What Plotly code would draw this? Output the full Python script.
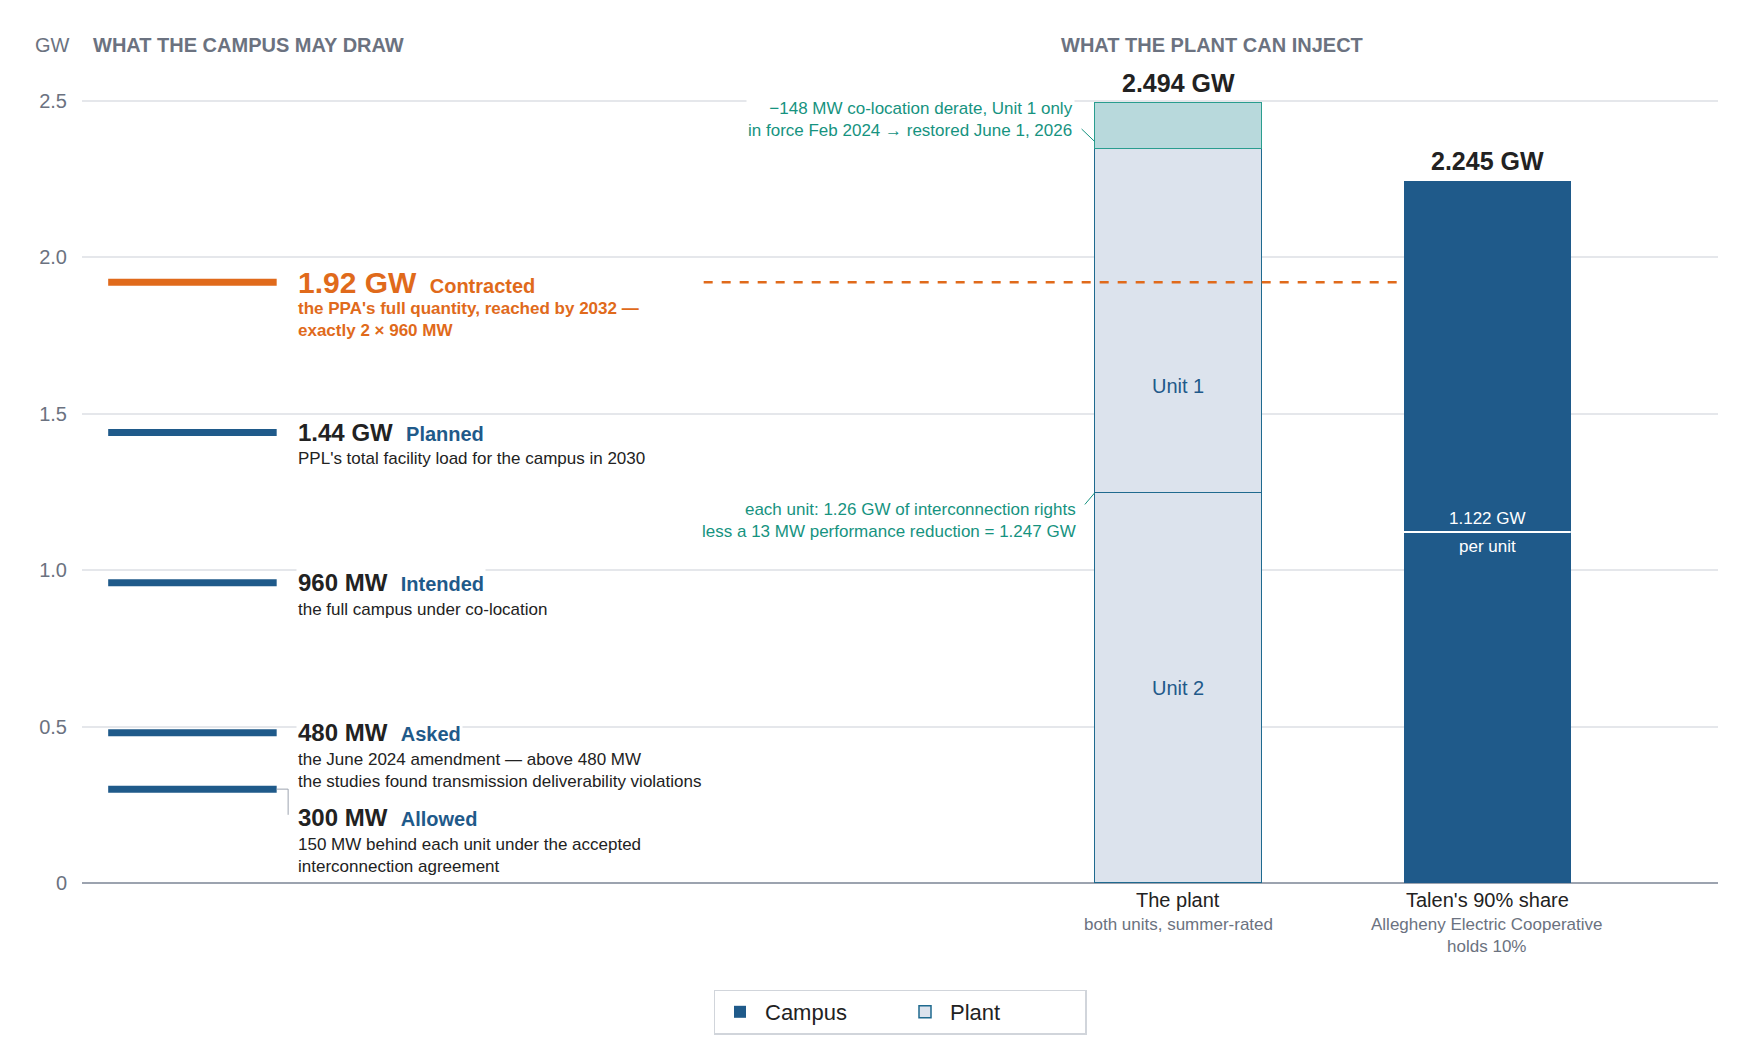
import plotly.graph_objects as go

# Campus draw levels (GW)
campus_vals = [1.92, 1.44, 0.96, 0.48, 0.30]
campus_heads = ["1.92 GW", "1.44 GW", "960 MW", "480 MW", "300 MW"]
campus_tags = ["Contracted", "Planned", "Intended", "Asked", "Allowed"]
campus_notes = [
    "the PPA's full quantity, reached by 2032 —<br>exactly 2 × 960 MW",
    "PPL's total facility load for the campus in 2030",
    "the full campus under co-location",
    "the June 2024 amendment — above 480 MW<br>the studies found transmission deliverability violations",
    "150 MW behind each unit under the accepted<br>interconnection agreement",
]
head_y = [1.92, 1.44, 0.96, 0.48, 0.208]

# Plant side (GW)
unit2 = 1.247
unit1 = 1.099
derate = 0.148
plant_total = 2.494
talen_share = 2.245
per_unit = 1.122

ORANGE = "#e06a1b"
BLUE = "#1f5a8a"
TEAL = "#16937f"
DARK = "#222222"
GRAY = "#6b7280"
FONT = "Liberation Sans"

XP, XT, W = 0.670, 0.859, 0.102
LX0, LX1, TX = 0.016, 0.119, 0.131

ML, MR, MT, MB = 74, 40, 55, 180
PW, PH = 1750 - ML - MR, 1055 - MT - MB

fig = go.Figure()
fig.add_trace(go.Bar(x=[XP], y=[unit2], width=W, name="Plant",
                     marker=dict(color="#dce3ed", line=dict(color="#1f6a8f", width=1.5))))
fig.add_trace(go.Bar(x=[XP], y=[unit1], width=W, showlegend=False,
                     marker=dict(color="#dce3ed", line=dict(color="#1f6a8f", width=1.5))))
fig.add_trace(go.Bar(x=[XP], y=[derate], width=W, showlegend=False,
                     marker=dict(color="#b8d9dc", line=dict(color="#2a9d8f", width=1.5))))
fig.add_trace(go.Bar(x=[XT], y=[talen_share], width=W, name="Campus",
                     marker=dict(color=BLUE, line=dict(width=0))))

for i, v in enumerate(campus_vals):
    fig.add_trace(go.Scatter(x=[LX0, LX1], y=[v, v], mode="lines", showlegend=False,
                             line=dict(color=ORANGE if i == 0 else BLUE, width=7), hoverinfo="skip"))

# dashed contract line
fig.add_trace(go.Scatter(x=[0.380, XT - W / 2], y=[campus_vals[0]] * 2, mode="lines", showlegend=False,
                         line=dict(color=ORANGE, width=2.5, dash="dash"), hoverinfo="skip"))
# per unit divider
fig.add_trace(go.Scatter(x=[XT - W / 2, XT + W / 2], y=[per_unit] * 2, mode="lines", showlegend=False,
                         line=dict(color="white", width=2), hoverinfo="skip"))
# elbow from 300 MW line to its label
fig.add_trace(go.Scatter(x=[LX1, 0.126, 0.126], y=[campus_vals[4], campus_vals[4], head_y[4] + 0.01],
                         mode="lines", showlegend=False, line=dict(color="#9ca3af", width=1), hoverinfo="skip"))
# teal connectors
fig.add_trace(go.Scatter(x=[0.611, XP - W / 2], y=[2.41, 2.37], mode="lines", showlegend=False,
                         line=dict(color=TEAL, width=1), hoverinfo="skip"))
fig.add_trace(go.Scatter(x=[0.613, XP - W / 2], y=[1.21, unit2], mode="lines", showlegend=False,
                         line=dict(color=TEAL, width=1), hoverinfo="skip"))

ann = []
for i in range(5):
    c = ORANGE if i == 0 else DARK
    tc = ORANGE if i == 0 else BLUE
    hs = 30 if i == 0 else 24
    ann.append(dict(x=TX, y=head_y[i], xref="x", yref="y", xanchor="left", yanchor="middle", showarrow=False,
                    bgcolor="white",
                    text=f"<b><span style='font-size:{hs}px;color:{c}'>{campus_heads[i]}</span>"
                         f"    <span style='font-size:20px;color:{tc}'>{campus_tags[i]}</span></b>"))
    note = f"<b>{campus_notes[i]}</b>" if i == 0 else campus_notes[i]
    ann.append(dict(x=TX, y=head_y[i], xref="x", yref="y", xanchor="left", yanchor="top", showarrow=False,
                    yshift=-15, align="left", bgcolor="white", text=note,
                    font=dict(size=17, color=ORANGE if i == 0 else DARK)))

extra = [
    dict(x=0.607, y=2.44, text="−148 MW co-location derate, Unit 1 only<br>in force Feb 2024 → restored June 1, 2026",
         xanchor="right", align="right", font=dict(size=17, color=TEAL), bgcolor="white"),
    dict(x=0.609, y=1.16, text="each unit: 1.26 GW of interconnection rights<br>less a 13 MW performance reduction = 1.247 GW",
         xanchor="right", align="right", font=dict(size=17, color=TEAL), bgcolor="white"),
    dict(x=XP, y=plant_total, yanchor="bottom", yshift=4, text="<b>2.494 GW</b>", font=dict(size=25, color=DARK)),
    dict(x=XT, y=talen_share, yanchor="bottom", yshift=4, text="<b>2.245 GW</b>", font=dict(size=25, color=DARK)),
    dict(x=XP, y=1.59, text="Unit 1", font=dict(size=20, color=BLUE)),
    dict(x=XP, y=unit2 / 2, text="Unit 2", font=dict(size=20, color=BLUE)),
    dict(x=XT, y=per_unit, yanchor="bottom", yshift=2, text="1.122 GW", font=dict(size=17, color="white")),
    dict(x=XT, y=per_unit, yanchor="top", yshift=-3, text="per unit", font=dict(size=17, color="white")),
    dict(x=XP, y=0, yanchor="top", yshift=-4, text="The plant", font=dict(size=20, color=DARK)),
    dict(x=XP, y=0, yanchor="top", yshift=-30, text="both units, summer-rated", font=dict(size=17, color=GRAY)),
    dict(x=XT, y=0, yanchor="top", yshift=-4, text="Talen's 90% share", font=dict(size=20, color=DARK)),
    dict(x=XT, y=0, yanchor="top", yshift=-30, text="Allegheny Electric Cooperative<br>holds 10%",
         font=dict(size=17, color=GRAY)),
]
for a in extra:
    a.update(xref="x", yref="y", showarrow=False)
ann += extra

hdr = [
    dict(x=25, y=37, text="GW", font=dict(size=20, color=GRAY)),
    dict(x=83, y=37, text="<b>WHAT THE CAMPUS MAY DRAW</b>", font=dict(size=20, color=GRAY)),
    dict(x=1051, y=37, text="<b>WHAT THE PLANT CAN INJECT</b>", font=dict(size=20, color=GRAY)),
]
for h in hdr:
    ann.append(dict(x=(h["x"] - ML) / PW, y=(1055 - MB - h["y"]) / PH, xref="paper", yref="paper",
                    xanchor="left", yanchor="middle", showarrow=False, text=h["text"], font=h["font"]))

fig.update_layout(
    width=1750, height=1055,
    margin=dict(l=ML, r=MR, t=MT, b=MB),
    paper_bgcolor="white", plot_bgcolor="white",
    font=dict(family=FONT, color=DARK),
    barmode="stack", bargap=0,
    annotations=ann,
    xaxis=dict(range=[0, 1], visible=False),
    yaxis=dict(range=[0, 2.621], tickvals=[0, 0.5, 1.0, 1.5, 2.0, 2.5],
               ticktext=["0", "0.5", "1.0", "1.5", "2.0", "2.5"],
               tickfont=dict(size=20, color=GRAY), gridcolor="#e5e7eb", gridwidth=1.5,
               zeroline=True, zerolinecolor="#9ca3af", zerolinewidth=2, ticklabelstandoff=14),
    legend=dict(orientation="h", x=0.5, xanchor="center", y=(MB - 124) / PH - 0.0, yanchor="top",
                bordercolor="#d1d5db", borderwidth=1.5, font=dict(size=22, color=DARK),
                itemwidth=40, entrywidth=130, traceorder="reversed"),
)
fig.update_layout(legend_y=-(1004 - (1055 - MB)) / PH, legend_yanchor="middle")
fig.write_html("out.html")
